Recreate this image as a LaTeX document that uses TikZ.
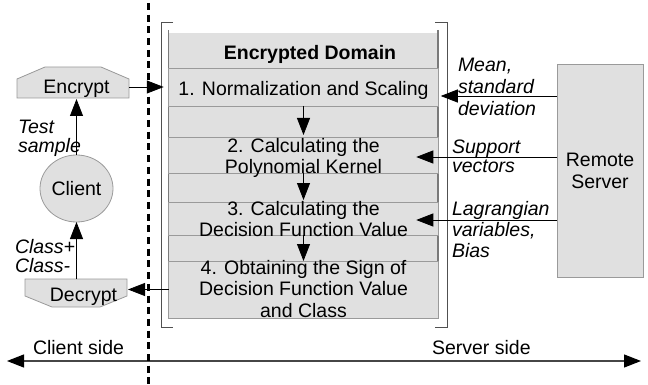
\documentclass[tikz,border=0pt]{standalone}
\usepackage{fontspec}
\setmainfont{Liberation Sans}
\usetikzlibrary{arrows.meta,shapes.geometric}
\definecolor{boxfill}{HTML}{E0E0E0}
\definecolor{boxline}{HTML}{9A9A9A}
\definecolor{darkline}{HTML}{7A7A7A}
\definecolor{brackline}{HTML}{505050}
\begin{document}
\begin{tikzpicture}[x=1pt,y=-1pt,
  every node/.style={inner sep=0pt, outer sep=0pt},
  txt/.style={font=\fontsize{19.5}{21.5}\selectfont},
  itxt/.style={font=\fontsize{19.5}{#1}\selectfont\itshape, align=left, anchor=north west},
  arr/.style={-{Triangle[length=17pt,width=13pt]}, line width=0.8pt, black},
  stepbox/.style={draw=boxline, fill=boxfill, line width=0.8pt, minimum width=269.5pt, minimum height=#1},
  steptext/.style={txt, align=center, anchor=north},
  shapefill/.style={draw=boxline, fill=boxfill, line width=0.8pt},
  brack/.style={draw=brackline, line width=1pt}
]
\useasboundingbox (0,0) rectangle (648,385);

% encrypted domain background
\fill[boxfill] (168.5,33) rectangle (438,318);
\draw[darkline, line width=1.5pt] (168.5,30) -- (168.5,318);
\draw[darkline, line width=1.5pt] (438,30) -- (438,318);

% step boxes
\node[stepbox=38pt] (s1) at (303.5,87) {};
\node[stepbox=36pt] (s2) at (303.5,155) {};
\node[stepbox=33pt] (s3) at (303.5,218.5) {};
\node[stepbox=57pt] (s4) at (303.5,289.5) {};
\draw[boxline, line width=1pt] (168.5,318) -- (438,318);

\node[txt, font=\fontsize{19.5}{21.5}\selectfont\bfseries, anchor=base] (title) at (310,60) {Encrypted Domain};
\node[steptext] (t1) at (303.5,81) {1. Normalization and Scaling};
\node[steptext] (t2) at (303.5,138) {2. Calculating the\\Polynomial Kernel};
\node[steptext] (t3) at (303.5,201) {3. Calculating the\\Decision Function Value};
\node[steptext] (t4) at (303.5,260) {4. Obtaining the Sign of\\Decision Function Value\\and Class};

% brackets
\draw[brack] (173,23) -- (161,23) -- (161,327) -- (173,327);
\draw[brack] (435,23) -- (447,23) -- (447,327) -- (435,327);

% remote server
\node[draw=boxline, fill=boxfill, line width=0.8pt, minimum width=86pt, minimum height=213pt, txt, font=\fontsize{19.5}{22}\selectfont, align=center] (rs) at (600,170.5) {Remote\\Server};

% client side shapes
\node[minimum width=112pt, minimum height=31pt] (enc) at (73,82.5) {};
\draw[shapefill] (17,98) -- (17,79) -- (45,67) -- (101,67) -- (129,79) -- (129,98) -- cycle;
\node[txt, anchor=base] (enct) at (76.5,94) {Encrypt};

\node[minimum width=102pt, minimum height=28pt] (dec) at (76,293) {};
\draw[shapefill] (25,279) -- (127,279) -- (127,296) -- (100,307) -- (52,307) -- (25,296) -- cycle;
\node[txt, anchor=base] (dect) at (83.5,301) {Decrypt};

\node[ellipse, draw=boxline, fill=boxfill, line width=0.8pt, minimum width=73pt, minimum height=67pt, txt] (cl) at (76.5,188.5) {Client};

% labels
\node[itxt=22pt] (lmean) at (458,58) {Mean,\\standard\\deviation};
\node[itxt=19pt] (lsup) at (452,139.5) {Support\\vectors};
\node[itxt=21pt] (llag) at (452,201) {Lagrangian\\variables,\\Bias};
\node[itxt=19pt] (ltest) at (18,120) {Test\\sample};
\node[itxt=19pt] (lcls) at (15,239) {Class+\\Class-};

\node[txt, anchor=base west] (cside) at (33,354) {Client side};
\node[txt, anchor=base west] (sside) at (432,354) {Server side};

% connectors
\draw[arr, shorten >=5pt] (enc.east |- s1.west) -- (s1.west);
\draw[arr, shorten >=1pt] (cl.north) -- (cl.north |- enc.south);
\draw[arr] (cl.south |- dec.north) -- (cl.south);
\draw[arr, shorten >=1pt] (s4.west) -- (dec.east |- s4.west);
\draw[arr, shorten >=2pt] (s1.south) -- (s2.north);
\draw[arr, shorten >=2pt] (s2.south) -- (s3.north);
\draw[arr, shorten >=0pt] (s3.south) -- (s4.north);

\coordinate (m1) at ([yshift=-9pt]s1.east);
\coordinate (m2) at ([xshift=-22pt,yshift=-2pt]s2.east);
\coordinate (m3) at ([xshift=-22pt,yshift=-1.5pt]s3.east);
\draw[arr, shorten >=2.5pt] (rs.west |- m1) -- (m1);
\draw[arr] (rs.west |- m2) -- (m2);
\draw[arr] (rs.west |- m3) -- (m3);

% bottom double arrow
\coordinate (bl) at (7,361);
\coordinate (br) at (641,361);
\draw[line width=1.2pt, gray!55!black, {Triangle[length=17pt,width=13pt,black]}-{Triangle[length=17pt,width=13pt,black]}] (bl) -- (br);

% dotted divider
\coordinate (dtop) at (148,3);
\coordinate (dbot) at (148,385);
\draw[black, line width=3pt, dash pattern=on 7pt off 4.7pt] (dtop) -- (dbot);
\end{tikzpicture}
\end{document}
